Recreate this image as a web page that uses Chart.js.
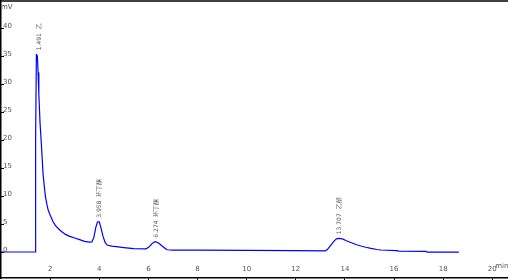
<!DOCTYPE html>
<html>
<head>
<meta charset="utf-8">
<script src="https://cdn.jsdelivr.net/npm/chart.js@4/dist/chart.umd.min.js"></script>
<style>
  html, body { margin: 0; padding: 0; background: #fff; }
  #wrap { width: 508px; height: 280px; }
</style>
</head>
<body>
<div id="wrap"><canvas id="chromatogram" width="508" height="280"></canvas></div>
<script>
// retention time (min) and detector signal (mV)
const times = [0, 1.40, 1.41, 1.44, 1.48, 1.51, 1.54, 1.59, 1.65, 1.71, 1.76, 1.81, 1.87, 1.92, 2.0, 2.12, 2.22, 2.33, 2.45, 2.6, 2.8, 3.0, 3.2, 3.4, 3.6, 3.7, 3.78, 3.86, 3.93, 4.0, 4.07, 4.16, 4.24, 4.32, 4.5, 4.7, 5.0, 5.4, 5.9, 6.05, 6.15, 6.27, 6.38, 6.5, 6.62, 6.76, 7.0, 8.0, 10.0, 12.0, 13.2, 13.3, 13.43, 13.55, 13.65, 13.76, 13.9, 14.04, 14.24, 14.45, 14.65, 14.85, 15.06, 15.3, 15.47, 16.1, 16.2, 17.3, 17.35, 18.64];
const signal = [0, 0, 20.5, 35.3, 35.0, 32.0, 28.3, 23.0, 18.8, 14.1, 11.8, 9.9, 8.5, 7.5, 6.6, 5.4, 4.7, 4.2, 3.7, 3.2, 2.8, 2.5, 2.2, 1.9, 1.75, 1.8, 2.6, 4.4, 5.4, 5.4, 4.3, 2.7, 1.7, 1.25, 1.05, 0.95, 0.8, 0.6, 0.55, 1.0, 1.5, 1.85, 1.7, 1.3, 0.85, 0.4, 0.35, 0.35, 0.3, 0.25, 0.2, 0.5, 1.25, 1.9, 2.35, 2.45, 2.35, 2.05, 1.7, 1.35, 1.07, 0.85, 0.65, 0.45, 0.36, 0.25, 0.15, 0.12, -0.03, -0.03];

// peak annotations
const peakTimes = [1.491, 3.958, 6.274, 13.707];
const peakNames = ["乙", "环丁酮", "环丁酮", "乙醇"];

// axis ticks
const xTicks = [2, 4, 6, 8, 10, 12, 14, 16, 18, 20];
const yTicks = [0, 5, 10, 15, 20, 25, 30, 35, 40];

const textFont = '7px "DejaVu Sans", sans-serif';
const peakFont = '6px "DejaVu Sans", sans-serif';

const annotate = {
    id: "annotate",
    afterDraw(chart) {
        const ctx = chart.ctx, x = chart.scales.x, y = chart.scales.y, area = chart.chartArea;
        ctx.save();
        // top frame line
        ctx.strokeStyle = "#000";
        ctx.lineWidth = 1.5;
        ctx.beginPath();
        ctx.moveTo(0, 1);
        ctx.lineTo(chart.width, 1);
        ctx.stroke();

        ctx.font = textFont;
        ctx.fillStyle = "#555";
        // y ticks, drawn inward, labels above them
        ctx.lineWidth = 1;
        yTicks.forEach(v => {
            const py = Math.round(y.getPixelForValue(v)) + 0.5;
            ctx.beginPath();
            ctx.moveTo(area.left, py);
            ctx.lineTo(area.left + 3, py);
            ctx.stroke();
            ctx.textAlign = "left";
            ctx.textBaseline = "bottom";
            ctx.fillText(String(v), area.left + 2, py + 1);
        });
        // x tick labels sit inside the plot just above the axis
        xTicks.forEach(v => {
            ctx.textAlign = "center";
            ctx.textBaseline = "middle";
            ctx.fillText(String(v), x.getPixelForValue(v), area.bottom - 9);
        });
        ctx.textAlign = "left";
        ctx.textBaseline = "middle";
        ctx.fillText("mV", area.left, 7);
        ctx.fillText("min", x.getPixelForValue(20) + 3, area.bottom - 12);

        // peak labels, rotated, starting a little above each peak top
        ctx.font = peakFont;
        peakTimes.forEach((t, i) => {
            let top = -Infinity;
            times.forEach((tt, j) => { if (Math.abs(tt - t) < 0.15) top = Math.max(top, signal[j]); });
            const px = x.getPixelForValue(t) + 1.5;
            const py = y.getPixelForValue(top) - 4;
            ctx.save();
            ctx.translate(px, py);
            ctx.rotate(-Math.PI / 2);
            ctx.textAlign = "left";
            ctx.textBaseline = "middle";
            ctx.fillText(t.toFixed(3) + "  " + peakNames[i], 0, 0);
            ctx.restore();
        });
        ctx.restore();
    }
};

new Chart(document.getElementById("chromatogram"), {
    type: "line",
    data: {
        datasets: [{
            data: times.map((t, i) => ({ x: t, y: signal[i] })),
            borderColor: "#0000ff",
            borderWidth: 1.2,
            borderJoinStyle: "round",
            pointRadius: 0,
            tension: 0,
            fill: false
        }]
    },
    options: {
        responsive: false,
        animation: false,
        devicePixelRatio: 1,
        layout: { padding: { left: 1, top: 1, right: 0, bottom: 0 } },
        plugins: { legend: { display: false }, tooltip: { enabled: false } },
        scales: {
            x: {
                type: "linear",
                min: 0,
                max: 20.64,
                afterBuildTicks: s => { s.ticks = xTicks.map(v => ({ value: v })); },
                ticks: { display: false },
                grid: { drawOnChartArea: false, drawTicks: true, tickLength: 2, color: "#000" },
                border: { display: true, color: "#000", width: 1.5 }
            },
            y: {
                min: -4.64,
                max: 44.82,
                afterBuildTicks: s => { s.ticks = yTicks.map(v => ({ value: v })); },
                ticks: { display: false },
                grid: { drawOnChartArea: false, drawTicks: false },
                border: { display: true, color: "#000", width: 1.5 }
            }
        }
    },
    plugins: [annotate]
});
</script>
</body>
</html>
